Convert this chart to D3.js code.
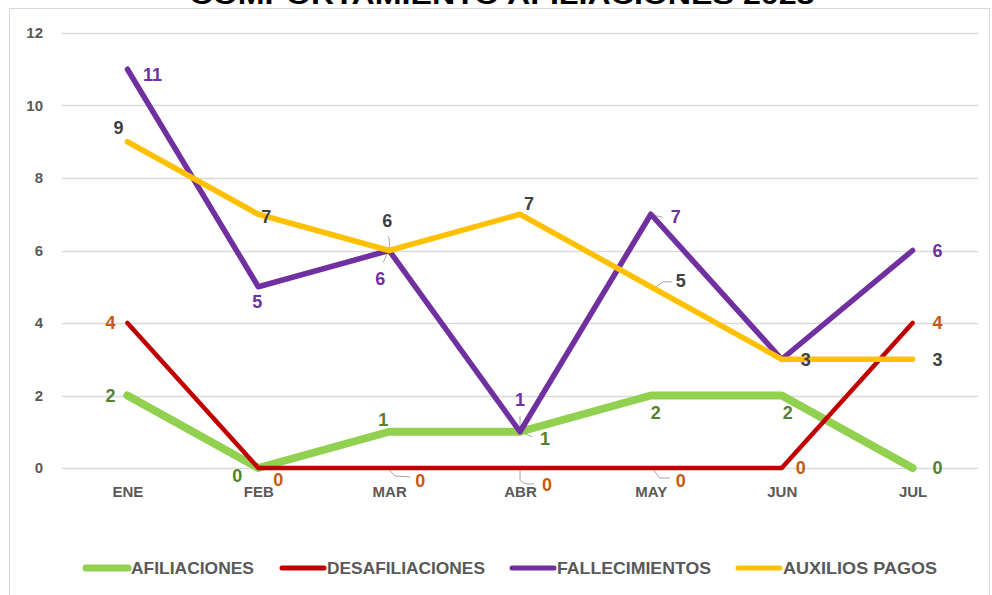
<!DOCTYPE html>
<html><head><meta charset="utf-8">
<script src="https://cdn.jsdelivr.net/npm/d3@7"></script>
<style>
body{margin:0;background:#fff;}
svg{display:block;font-family:"Liberation Sans",Arial,sans-serif;}
</style></head>
<body>
<svg id="c" width="992" height="595"></svg>
<script>
const title = "COMPORTAMIENTO AFILIACIONES 2023";
const months = ["ENE","FEB","MAR","ABR","MAY","JUN","JUL"];
const yTicks = [0,2,4,6,8,10,12];
const afiliaciones = [2,0,1,1,2,2,0];
const desafiliaciones = [4,0,0,0,0,0,4];
const fallecimientos = [11,5,6,1,7,3,6];
const auxiliosPagos = [9,7,6,7,5,3,3];
const seriesNames = ["AFILIACIONES","DESAFILIACIONES","FALLECIMIENTOS","AUXILIOS PAGOS"];

// styling / layout (not data)
const lineColors = ["#92D050","#C00000","#7030A0","#FFC000"];
const labelColors = ["#548235","#C55A11","#7030A0","#404040"];
const lineWidths = [8,4.5,5.5,5.5];
// label offsets [dx,dy] relative to the point, null = hidden
const labelOffsets = [
  [[-17,0],[-21,8],[-6,-12],[25,7],[5,17],[6,17],[25,0]],
  [[-17,0],[20,12],[31,13],[27,17],[30,13],[19,0],[25,0]],
  [[25,5],[-1,15],[-9,28],[0,-32],[25,2],null,[25,0]],
  [[-9,-14],[8,2],[-2,-30],[9,-11],[30,-6],[24,0],[25,0]]
];
const leaderLines = [ // [seriesIdx, monthIdx, path in offsets]
  [1,2,"M0,2 L6,8 L21,9"],
  [1,3,"M0,1 L0,11 Q1,15 7,16 L14,16"],
  [1,4,"M2,1 L9,10 L19,10"],
  [3,2,"M-1,-14 Q4,-7 -6,12"],
  [3,4,"M4,1 L12,-5 L21,-5"],
  [2,3,"M0,-16 L0,0 L12,5"],
  [2,4,"M2,1 L12,3"]
];

const seriesData = [afiliaciones,desafiliaciones,fallecimientos,auxiliosPagos];

const svg = d3.select("#c");
const pLeft = 62, pRight = 978, pTop = 33, pBottom = 468;

// frame
svg.append("rect").attr("x",9.5).attr("y",8.5).attr("width",980).attr("height",600)
  .attr("fill","none").attr("stroke","#d9d9d9").attr("stroke-width",1);

svg.append("text").attr("x",502).attr("y",4).attr("text-anchor","middle")
  .attr("font-size",25).attr("font-weight","bold").attr("fill","#000")
  .attr("textLength",625).attr("lengthAdjust","spacingAndGlyphs").text(title);

const x = d3.scalePoint().domain(months).range([pLeft,pRight]).padding(0.5);
const y = d3.scaleLinear().domain([0,12]).range([pBottom,pTop]);

// grid
svg.append("g").selectAll("line").data(yTicks).join("line")
  .attr("x1",pLeft).attr("x2",pRight)
  .attr("y1",d=>Math.round(y(d))+0.5).attr("y2",d=>Math.round(y(d))+0.5)
  .attr("stroke","#d9d9d9").attr("stroke-width",1.5);

// y axis
const yAxis = d3.axisLeft(y).tickValues(yTicks).tickSize(0).tickPadding(0);
const gy = svg.append("g").attr("transform",`translate(${pLeft-19},0)`).call(yAxis);
gy.select(".domain").remove();
gy.selectAll("text").attr("font-size",15).attr("font-weight","bold").attr("fill","#595959")
  .attr("font-family","Liberation Sans, Arial, sans-serif");

// x axis
const xAxis = d3.axisBottom(x).tickSize(0).tickPadding(0);
const gx = svg.append("g").attr("transform",`translate(0,${pBottom+18})`).call(xAxis);
gx.select(".domain").remove();
gx.selectAll("text").attr("font-size",15).attr("font-weight","bold").attr("fill","#595959")
  .attr("font-family","Liberation Sans, Arial, sans-serif");

const line = d3.line().x((d,i)=>x(months[i])).y(d=>y(d));

// leader lines
leaderLines.forEach(([s,m,p])=>{
  svg.append("path").attr("transform",`translate(${x(months[m])},${y(seriesData[s][m])})`)
    .attr("d",p).attr("fill","none").attr("stroke","#a6a6a6").attr("stroke-width",1);
});

seriesData.forEach((vals,s)=>{
  svg.append("path").datum(vals).attr("d",line).attr("fill","none")
    .attr("stroke",lineColors[s]).attr("stroke-width",lineWidths[s])
    .attr("stroke-linecap","round").attr("stroke-linejoin","round");
});

seriesData.forEach((vals,s)=>{
  const pts = vals.map((v,i)=>({v,i,o:labelOffsets[s][i]})).filter(d=>d.o);
  svg.append("g").selectAll("text").data(pts).join("text")
    .attr("x",d=>x(months[d.i])+d.o[0])
    .attr("y",d=>y(d.v)+d.o[1])
    .attr("dy","0.36em").attr("text-anchor","middle")
    .attr("font-size",18).attr("font-weight","bold").attr("fill",labelColors[s])
    .text(d=>d.v);
});

// legend
const legX = [83,279,509,735];
const legW = [123,158,154,154];
const leg = svg.append("g");
seriesNames.forEach((n,s)=>{
  leg.append("line").attr("x1",legX[s]+3).attr("x2",legX[s]+45).attr("y1",568).attr("y2",568)
    .attr("stroke",lineColors[s]).attr("stroke-width",s===0?7:5).attr("stroke-linecap","round");
  leg.append("text").attr("x",legX[s]+48).attr("y",568).attr("dy","0.36em")
    .attr("font-size",17).attr("font-weight","bold").attr("fill","#595959")
    .attr("textLength",legW[s]).attr("lengthAdjust","spacingAndGlyphs").text(n);
});
</script>
</body></html>
